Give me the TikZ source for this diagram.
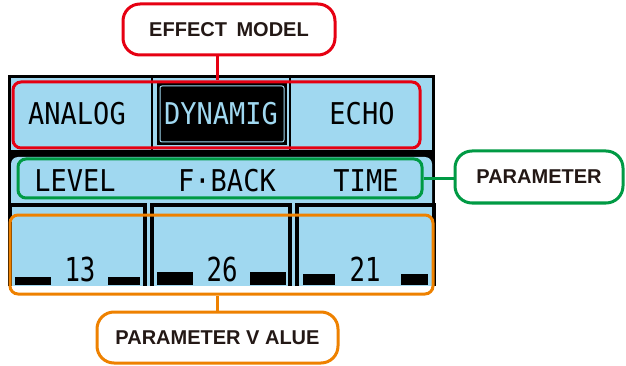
\documentclass[tikz,border=0pt]{standalone}
\usepackage{fontspec}
\setmainfont{Liberation Sans}
\newfontfamily\lcdfont[FakeStretch=0.9]{DejaVu Sans Mono}
\newfontfamily\digitfont[FakeStretch=0.78]{DejaVu Sans Mono}
\definecolor{lcdblue}{HTML}{A0D8F0}
\definecolor{modelred}{HTML}{E60012}
\definecolor{paramgreen}{HTML}{009A44}
\definecolor{valueorange}{HTML}{EE8100}
\definecolor{tagtext}{HTML}{231815}
\begin{document}
\begin{tikzpicture}[x=1pt,y=-1pt,
        lcd/.style={font=\lcdfont\fontsize{30}{30}\selectfont,inner sep=0pt,anchor=base},
        num/.style={font=\digitfont\fontsize{33}{33}\selectfont,inner sep=0pt,anchor=base},
        hilite/.style={draw=#1,line width=3pt,rounded corners=8pt,inner sep=0pt},
        tag/.style={draw=#1,line width=3pt,rounded corners=17pt,fill=white,inner sep=0pt,
            text=tagtext,font=\bfseries\fontsize{20}{20}\selectfont},
        link/.style={draw=#1,line width=3pt}]
    \useasboundingbox (0,0) rectangle (626,366);
    % screen
    \fill[lcdblue] (8,76) rectangle (435,286);
    \draw[line width=3pt] (9.5,286) |- (433.5,77) -- (433.5,286);
    \draw[line width=2.5pt] (152,77) -- (152,150);
    \draw[line width=2.5pt] (290,77) -- (290,150);
    \fill (157,83) rectangle (287,145);
    \draw[lcdblue,line width=1pt,rounded corners=2pt] (160,86) rectangle (284,142);
    \fill (8,150) rectangle (435,166);
    \fill[lcdblue] (11,203) [rounded corners=7pt] -- (11,157) -- (432,157) [sharp corners] -- (432,203) -- cycle;
    % value panels
    \draw[line width=4pt] (9.5,286) |- (145,204.5) -- (145,286);
    \draw[line width=4pt] (151.5,286) |- (290,204.5) -- (290,286);
    \draw[line width=4pt] (296.5,286) |- (433.5,204.5) -- (433.5,286);
    \fill (15,277) rectangle (51,284.5);
    \fill (108,277) rectangle (140,284.5);
    \fill (157,272) rectangle (193,284.5);
    \fill (250,272) rectangle (286,284.5);
    \fill (303,274) rectangle (335,284.5);
    \fill (401,274) rectangle (428,284.5);
    % texts
    \node[lcd] (analog) at (77,125) {ANALOG};
    \node[lcd,text=lcdblue] (dynamig) at (221,125) {DYNAMIG};
    \node[lcd] (echo) at (362,125) {ECHO};
    \node[lcd] (level) at (75,192) {LEVEL};
    \node[lcd] (fback) at (227,192) {F·BACK};
    \node[lcd] (time) at (366,192) {TIME};
    \node[num] (val13) at (80,281) {13};
    \node[num] (val26) at (222,281) {26};
    \node[num] (val21) at (365,281) {21};
    % highlights
    \node[hilite=modelred,minimum width=407pt,minimum height=66pt] (models) at (216.5,115) {};
    \node[hilite=paramgreen,minimum width=404pt,minimum height=39pt] (params) at (220,178.5) {};
    \node[hilite=valueorange,minimum width=423pt,minimum height=79pt] (values) at (221.5,254.5) {};
    % callouts
    \node[tag=modelred,minimum width=212pt,minimum height=51pt] (model) at (229,29.5) {EFFECT\hspace{0.2em} MODEL};
    \node[tag=paramgreen,minimum width=168pt,minimum height=52pt] (param) at (539,177) {PARAMETER};
    \node[tag=valueorange,minimum width=241pt,minimum height=51pt] (value) at (217.5,337.5) {PARAMETER V ALUE};
    \draw[link=modelred] ([xshift=-12pt]model.south) -- ([xshift=-12pt]model.south |- models.north);
    \draw[link=paramgreen] (params.east) -- (params.east -| param.west);
    \draw[link=valueorange] (value.north) -- (value.north |- values.south);
\end{tikzpicture}
\end{document}
